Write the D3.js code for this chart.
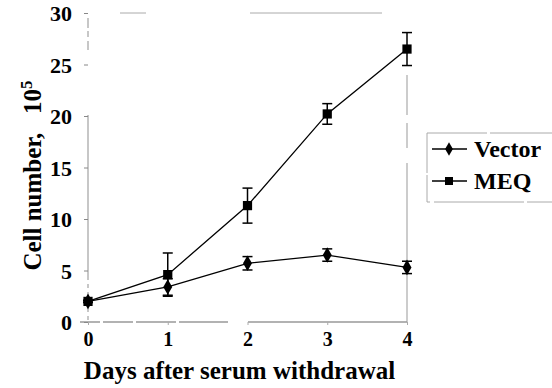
<!DOCTYPE html>
<html>
<head>
<meta charset="utf-8">
<script src="https://cdn.jsdelivr.net/npm/d3@7"></script>
<style>
  body { margin: 0; background: #fff; }
</style>
</head>
<body>
<div id="chart"></div>
<script>
// data (cell number x 10^5)
var days = [0, 1, 2, 3, 4];
var vectorMean = [2.0, 3.4, 5.7, 6.5, 5.3];
var vectorErr  = [0.1, 0.8, 0.65, 0.6, 0.6];
var meqMean    = [2.0, 4.6, 11.3, 20.2, 26.5];
var meqErr     = [0.1, 2.1, 1.7, 1.0, 1.6];
var yTicks = [0, 5, 10, 15, 20, 25, 30];
var seriesNames = ["Vector", "MEQ"];

var FONT = "'Liberation Serif'";

var W = 552, H = 388;
var margin = {top: 13, right: 145, bottom: 66, left: 88},
    width = W - margin.left - margin.right,
    height = H - margin.top - margin.bottom;

var x = d3.scaleLinear().domain([0, 4]).range([0, width]);
var y = d3.scaleLinear().domain([0, 30]).range([height, 0]);

var svg = d3.select("#chart").append("svg")
    .attr("width", W)
    .attr("height", H)
  .append("g")
    .attr("transform", "translate(" + margin.left + "," + margin.top + ")");

// faded frame, as in the scanned original
svg.append("line").attr("x1", 0).attr("x2", 0).attr("y1", 5).attr("y2", height)
    .attr("stroke", "#aaa").attr("stroke-width", 1.3)
    .attr("stroke-dasharray", "10,3,6,4,9,65,165,4,4,4,4,4,4,4,4,4,4,4,4,40");
svg.append("line").attr("x1", -8).attr("x2", width).attr("y1", height).attr("y2", height)
    .attr("stroke", "#999").attr("stroke-width", 1.3)
    .attr("stroke-dasharray", "20,3,30,3,40,3,49,20,200");
svg.append("line").attr("x1", 32).attr("x2", width - 25).attr("y1", 0).attr("y2", 0)
    .attr("stroke", "#aaa").attr("stroke-width", 1).attr("stroke-dasharray", "26,104,134,400");
svg.append("line").attr("x1", width).attr("x2", width).attr("y1", 62).attr("y2", height)
    .attr("stroke", "#999").attr("stroke-width", 1).attr("stroke-dasharray", "40,8,25,15,200");

// y axis
var yAxis = svg.append("g")
    .call(d3.axisLeft(y).tickValues(yTicks).tickSize(4).tickPadding(12));
yAxis.attr("font-family", null).attr("font-size", null);
yAxis.select(".domain").remove();
yAxis.selectAll(".tick line").attr("stroke", "#888");
yAxis.selectAll("text").style("font-family", FONT).style("font-weight", "bold")
    .style("font-size", "22px").attr("dy", "0.36em");

// x axis
var xAxis = svg.append("g")
    .attr("transform", "translate(0," + height + ")")
    .call(d3.axisBottom(x).tickValues(days).tickFormat(d3.format("d")).tickSize(3).tickPadding(7));
xAxis.attr("font-family", null).attr("font-size", null);
xAxis.select(".domain").remove();
xAxis.selectAll(".tick line").attr("stroke", "#aaa");
xAxis.selectAll("text").style("font-family", FONT).style("font-weight", "bold").style("font-size", "20px");

// axis titles
svg.append("text")
    .attr("x", width / 2 - 8).attr("y", height + 57)
    .attr("text-anchor", "middle")
    .style("font-family", FONT).style("font-weight", "bold").style("font-size", "25px")
    .text("Days after serum withdrawal");

var yt = svg.append("text")
    .attr("transform", "translate(-47," + (height / 2 + 8) + ") rotate(-90)")
    .attr("text-anchor", "middle")
    .style("font-family", FONT).style("font-weight", "bold").style("font-size", "25px");
yt.append("tspan").text("Cell number,\u00a0\u00a0\u00a010");
yt.append("tspan").attr("dy", "-0.55em").style("font-size", "17px").text("5");

// lines
var line = d3.line().x(function(d, i) { return x(days[i]); }).y(function(d) { return y(d); });

var series = [
  {name: seriesNames[0], mean: vectorMean, err: vectorErr, shape: d3.symbolDiamond, size: 70},
  {name: seriesNames[1], mean: meqMean, err: meqErr, shape: d3.symbolSquare, size: 85}
];

series.forEach(function(s) {
  svg.append("path").datum(s.mean)
      .attr("fill", "none").attr("stroke", "#000").attr("stroke-width", 1.3)
      .attr("d", line);

  var eb = svg.append("g").selectAll("g").data(s.mean).enter().append("g");
  eb.append("line")
      .attr("x1", function(d, i) { return x(days[i]); })
      .attr("x2", function(d, i) { return x(days[i]); })
      .attr("y1", function(d, i) { return y(d + s.err[i]); })
      .attr("y2", function(d, i) { return y(d - s.err[i]); })
      .attr("stroke", "#000").attr("stroke-width", 1.5);
  [1, -1].forEach(function(sign) {
    eb.append("line")
        .attr("x1", function(d, i) { return x(days[i]) - 5; })
        .attr("x2", function(d, i) { return x(days[i]) + 5; })
        .attr("y1", function(d, i) { return y(d + sign * s.err[i]); })
        .attr("y2", function(d, i) { return y(d + sign * s.err[i]); })
        .attr("stroke", "#000").attr("stroke-width", 1.5);
  });

  svg.append("g").selectAll("path").data(s.mean).enter().append("path")
      .attr("d", d3.symbol().type(s.shape).size(s.size))
      .attr("transform", function(d, i) { return "translate(" + x(days[i]) + "," + y(d) + ")"; })
      .attr("fill", "#000");
});

// legend
var lg = svg.append("g").attr("transform", "translate(" + (width + 20) + ",120)");
lg.append("rect").attr("x", 0).attr("y", 0).attr("width", 140).attr("height", 69)
    .attr("fill", "none").attr("stroke", "#aaa").attr("stroke-width", 1)
    .attr("stroke-dasharray", "60,3,90,4,30,2");
series.forEach(function(s, i) {
  var row = lg.append("g").attr("transform", "translate(0," + (16 + i * 32) + ")");
  row.append("line").attr("x1", 5).attr("x2", 40).attr("y1", 0).attr("y2", 0)
      .attr("stroke", "#000").attr("stroke-width", 1.3);
  row.append("path").attr("d", d3.symbol().type(s.shape).size(s.size * 0.75))
      .attr("transform", "translate(22,0)").attr("fill", "#000");
  row.append("text").attr("x", 47).attr("y", 8)
      .style("font-family", FONT).style("font-weight", "bold").style("font-size", "24px")
      .text(s.name);
});
</script>
</body>
</html>
